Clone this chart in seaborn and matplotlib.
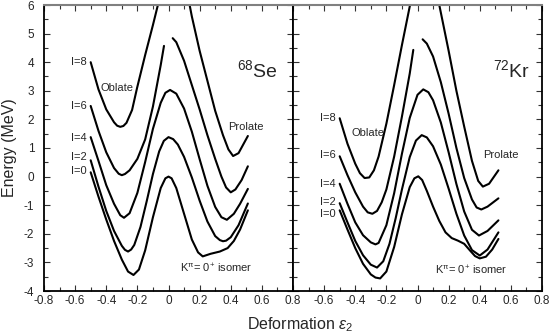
import matplotlib
matplotlib.use("Agg")
import matplotlib.pyplot as plt
import seaborn as sns
from matplotlib.ticker import MultipleLocator, FuncFormatter

# ---- data (deformation eps2, energy in MeV) ----
# 68Se
se_i0_x = [-0.50, -0.45, -0.40, -0.35, -0.30, -0.26, -0.225, -0.19, -0.15, -0.10, -0.05, -0.02, 0.00,
           0.02, 0.05, 0.10, 0.15, 0.19, 0.22, 0.27, 0.33, 0.38, 0.42, 0.46, 0.51]
se_i0_y = [0.15, -0.70, -1.50, -2.25, -2.90, -3.32, -3.44, -3.25, -2.58, -1.42, -0.40, -0.06, 0.00,
           -0.06, -0.40, -1.30, -2.20, -2.65, -2.79, -2.70, -2.62, -2.50, -2.25, -1.85, -1.18]
se_i2_x = [-0.50, -0.45, -0.40, -0.35, -0.30, -0.28, -0.26, -0.24, -0.22, -0.18, -0.14, -0.10, -0.06,
           -0.03, 0.00, 0.03, 0.06, 0.10, 0.15, 0.20, 0.25, 0.30, 0.33, 0.35, 0.37, 0.40, 0.45, 0.51]
se_i2_y = [0.57, -0.35, -1.20, -1.90, -2.42, -2.56, -2.62, -2.55, -2.39, -1.76, -0.86, 0.09, 0.88,
           1.25, 1.38, 1.31, 1.12, 0.69, -0.03, -0.84, -1.57, -2.08, -2.22, -2.26, -2.24, -2.12, -1.70, -0.94]
se_i4_x = [-0.50, -0.45, -0.40, -0.35, -0.31, -0.286, -0.25, -0.20, -0.15, -0.10, -0.05, -0.02, 0.01,
           0.05, 0.10, 0.15, 0.20, 0.25, 0.30, 0.34, 0.375, 0.42, 0.46, 0.51]
se_i4_y = [1.38, 0.55, -0.30, -0.95, -1.35, -1.44, -1.28, -0.57, 0.51, 1.67, 2.58, 2.93, 3.03,
           2.90, 2.38, 1.57, 0.61, -0.32, -1.06, -1.42, -1.51, -1.30, -0.95, -0.43]
se_i6_left_x = [-0.50, -0.45, -0.40, -0.35, -0.32, -0.30, -0.28, -0.25, -0.20, -0.15, -0.10, -0.05, -0.029]
se_i6_left_y = [2.47, 1.60, 0.85, 0.30, 0.10, 0.05, 0.09, 0.22, 0.62, 1.30, 2.45, 3.90, 4.57]
se_i6_right_x = [0.027, 0.05, 0.10, 0.15, 0.20, 0.25, 0.30, 0.34, 0.37, 0.40, 0.43, 0.47, 0.51]
se_i6_right_y = [4.84, 4.70, 4.05, 3.20, 2.35, 1.45, 0.62, 0.00, -0.38, -0.55, -0.45, -0.12, 0.36]
se_i8_x = [-0.50, -0.45, -0.40, -0.35, -0.33, -0.31, -0.29, -0.27, -0.234, -0.202, -0.15, -0.10, -0.05,
           0.00, 0.05, 0.10, 0.15, 0.20, 0.25, 0.30, 0.35, 0.385, 0.415, 0.45, 0.51]
se_i8_y = [4.00, 3.05, 2.35, 1.90, 1.78, 1.74, 1.77, 1.88, 2.33, 3.10, 4.25, 5.30, 6.40,
           7.10, 7.30, 7.00, 5.60, 4.40, 3.35, 2.30, 1.45, 0.95, 0.72, 0.82, 1.42]

# 72Kr
kr_i0_x = [-0.50, -0.45, -0.40, -0.35, -0.30, -0.27, -0.24, -0.20, -0.15, -0.10, -0.05, -0.02, 0.005,
           0.03, 0.06, 0.10, 0.14, 0.18, 0.22, 0.26, 0.30, 0.34, 0.37, 0.40, 0.44, 0.48, 0.52]
kr_i0_y = [-1.18, -1.85, -2.50, -3.05, -3.42, -3.53, -3.56, -3.32, -2.46, -1.32, -0.37, -0.06, 0.01,
           -0.12, -0.50, -1.05, -1.55, -1.95, -2.15, -2.24, -2.35, -2.60, -2.78, -2.86, -2.80, -2.55, -2.18]
kr_i2_x = [-0.50, -0.45, -0.40, -0.35, -0.30, -0.26, -0.22, -0.18, -0.14, -0.10, -0.05, -0.01, 0.027,
           0.06, 0.10, 0.15, 0.20, 0.25, 0.30, 0.35, 0.40, 0.45, 0.52]
kr_i2_y = [-0.93, -1.60, -2.25, -2.75, -3.08, -3.18, -2.96, -2.35, -1.45, -0.45, 0.68, 1.26, 1.45,
           1.37, 1.06, 0.42, -0.42, -1.30, -2.06, -2.57, -2.76, -2.55, -1.95]
kr_i4_x = [-0.50, -0.45, -0.40, -0.35, -0.30, -0.27, -0.25, -0.20, -0.15, -0.10, -0.05, 0.00, 0.037,
           0.07, 0.10, 0.15, 0.20, 0.25, 0.30, 0.35, 0.395, 0.45, 0.52]
kr_i4_y = [-0.25, -0.95, -1.60, -2.05, -2.30, -2.37, -2.32, -1.70, -0.58, 0.80, 2.05, 2.86, 3.05,
           2.95, 2.67, 1.89, 0.85, -0.26, -1.22, -1.86, -2.06, -1.90, -1.53]
kr_i6_left_x = [-0.50, -0.45, -0.40, -0.35, -0.32, -0.29, -0.26, -0.23, -0.20, -0.15, -0.10, -0.05, -0.027]
kr_i6_left_y = [0.71, 0.05, -0.55, -1.05, -1.25, -1.30, -1.20, -0.90, -0.45, 0.70, 2.10, 3.60, 4.43]
kr_i6_right_x = [0.033, 0.06, 0.10, 0.15, 0.20, 0.25, 0.30, 0.35, 0.38, 0.41, 0.45, 0.52]
kr_i6_right_y = [4.80, 4.65, 4.20, 3.30, 2.20, 1.00, -0.05, -0.80, -1.08, -1.15, -1.05, -0.76]
kr_i8_x = [-0.50, -0.45, -0.40, -0.37, -0.34, -0.31, -0.28, -0.25, -0.20, -0.15, -0.10, -0.048, 0.00,
           0.05, 0.10, 0.14, 0.20, 0.25, 0.30, 0.35, 0.39, 0.42, 0.46, 0.52]
kr_i8_y = [2.04, 1.15, 0.45, 0.12, -0.05, -0.03, 0.22, 0.70, 1.85, 3.20, 4.60, 6.00, 7.10,
           7.40, 7.00, 6.00, 4.40, 3.00, 1.75, 0.55, -0.15, -0.35, -0.25, 0.22]

spin_labels = ["I=0", "I=2", "I=4", "I=6", "I=8"]
se_label_y = [0.18, 0.67, 1.36, 2.47, 4.00]
kr_label_y = [-1.30, -0.90, -0.25, 0.75, 2.04]

# ---- style ----
sns.set_style("ticks")
plt.rcParams["font.family"] = ["Liberation Sans", "DejaVu Sans"]
plt.rcParams["mathtext.fontset"] = "custom"
plt.rcParams["mathtext.rm"] = "Liberation Sans"
plt.rcParams["mathtext.it"] = "Liberation Sans:italic"
plt.rcParams["mathtext.bf"] = "Liberation Sans:bold"
plt.rcParams["axes.unicode_minus"] = False

fig = plt.figure(figsize=(5.52, 3.36), dpi=100)
ax_se = fig.add_axes([44 / 552, 45 / 336, 249 / 552, 286 / 336])
ax_kr = fig.add_axes([293 / 552, 45 / 336, 249 / 552, 286 / 336])


def draw(ax, xs, ys):
    sns.lineplot(x=xs, y=ys, ax=ax, color="black", linewidth=1.5, sort=False, estimator=None)


for xs, ys in [(se_i0_x, se_i0_y), (se_i2_x, se_i2_y), (se_i4_x, se_i4_y),
               (se_i6_left_x, se_i6_left_y), (se_i6_right_x, se_i6_right_y), (se_i8_x, se_i8_y)]:
    draw(ax_se, xs, ys)
for xs, ys in [(kr_i0_x, kr_i0_y), (kr_i2_x, kr_i2_y), (kr_i4_x, kr_i4_y),
               (kr_i6_left_x, kr_i6_left_y), (kr_i6_right_x, kr_i6_right_y), (kr_i8_x, kr_i8_y)]:
    draw(ax_kr, xs, ys)


def xfmt(v, _pos, skip_first=False):
    if skip_first and v < -0.75:
        return ""
    return "0" if abs(v) < 1e-9 else f"{v:.1f}"


for ax in (ax_se, ax_kr):
    ax.set_xlim(-0.8, 0.8)
    ax.set_ylim(-4, 6)
    ax.set_xlabel("")
    ax.set_ylabel("")
    ax.xaxis.set_major_locator(MultipleLocator(0.2))
    ax.xaxis.set_minor_locator(MultipleLocator(0.1))
    ax.yaxis.set_major_locator(MultipleLocator(1))
    ax.yaxis.set_minor_locator(MultipleLocator(0.5))
    ax.tick_params(which="both", direction="in", top=True, right=True, width=0.8, color="#333333")
    ax.tick_params(which="major", length=4, labelsize=8.5, pad=3)
    ax.tick_params(which="minor", length=3)
    ax.tick_params(axis="y", pad=7)
    for side in ("left", "right", "bottom"):
        ax.spines[side].set_color("black")
        ax.spines[side].set_linewidth(1.3)
    ax.spines["top"].set_color("#808080")
    ax.spines["top"].set_linewidth(1.5)

ax_se.xaxis.set_major_formatter(FuncFormatter(lambda v, p: xfmt(v, p)))
ax_kr.xaxis.set_major_formatter(FuncFormatter(lambda v, p: xfmt(v, p, skip_first=True)))
ax_se.yaxis.set_major_formatter(FuncFormatter(lambda v, p: f"{v:.0f}"))
ax_kr.tick_params(axis="y", labelleft=False)

# spin labels
for lab, y in zip(spin_labels, se_label_y):
    ax_se.text(-0.525, y, lab, ha="right", va="center", fontsize=8)
for lab, y in zip(spin_labels, kr_label_y):
    ax_kr.text(-0.525, y, lab, ha="right", va="center", fontsize=8)

ax_se.text(-0.33, 3.1, "Oblate", ha="center", va="center", fontsize=8)
ax_se.text(0.495, 1.73, "Prolate", ha="center", va="center", fontsize=8)
ax_se.text(0.70, 3.73, r"$\mathregular{^{68}}$Se", ha="right", va="center", fontsize=14)
ax_se.text(0.075, -3.22, r"K$\mathregular{^{\pi}}$= 0$\mathregular{^{+}}$ isomer", ha="left",
           va="center", fontsize=8)

ax_kr.text(-0.316, 1.51, "Oblate", ha="center", va="center", fontsize=8)
ax_kr.text(0.535, 0.75, "Prolate", ha="center", va="center", fontsize=8)
ax_kr.text(0.72, 3.73, r"$\mathregular{^{72}}$Kr", ha="right", va="center", fontsize=14)
ax_kr.text(0.113, -3.29, r"K$\mathregular{^{\pi}}$= 0$\mathregular{^{+}}$ isomer", ha="left",
           va="center", fontsize=8)

fig.text(10 / 552, 1 - 148 / 336, "Energy (MeV)", rotation=90, ha="center", va="center", fontsize=11.5)
fig.text(300 / 552, 1 - 325 / 336, r"Deformation $\varepsilon_{\mathregular{2}}$", ha="center",
         va="center", fontsize=11.5)

fig.savefig("out.png", dpi=100)
